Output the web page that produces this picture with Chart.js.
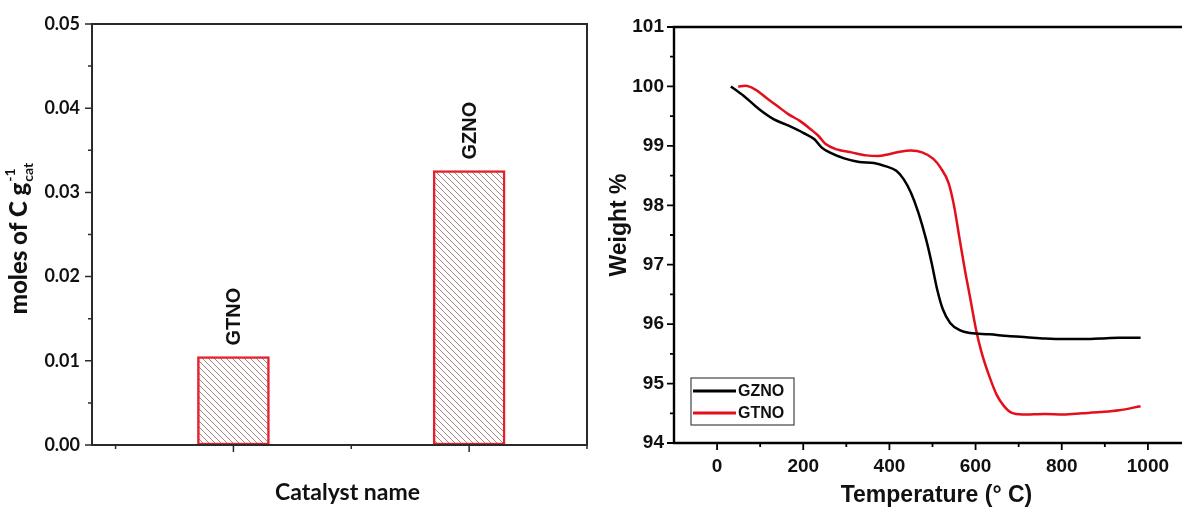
<!DOCTYPE html>
<html><head><meta charset="utf-8">
<script src="https://cdn.jsdelivr.net/npm/chart.js@4.4.0/dist/chart.umd.min.js"></script>
<style>
html,body{margin:0;padding:0;background:#fff;overflow:hidden;width:1182px;height:510px;position:relative;}
#left{position:absolute;left:0;top:0;width:600px;height:510px;}
#right{position:absolute;left:600px;top:0;width:600px;height:510px;}
</style></head><body>
<div id="left"><canvas id="c1" width="600" height="510"></canvas></div>
<div id="right"><canvas id="c2" width="600" height="510"></canvas></div>
<script>
// ---------- data: left panel ----------
const categories = ['GTNO', 'GZNO'];
const carbonMoles = [0.0105, 0.0326];
const carbonTicks = [0, 0.01, 0.02, 0.03, 0.04, 0.05];
const carbonMinorTicks = [0.005, 0.015, 0.025, 0.035, 0.045];

// ---------- data: right panel (TGA) ----------
const tempGZNO = [32, 62, 97, 131, 166, 200, 226, 243, 261, 295, 330, 364, 390, 416, 433, 450, 467, 485, 498, 511, 524, 541, 563, 588, 632, 675, 718, 761, 804, 847, 890, 933, 983];
const weightGZNO = [100.0, 99.84, 99.62, 99.45, 99.34, 99.22, 99.11, 98.97, 98.89, 98.79, 98.73, 98.71, 98.66, 98.58, 98.44, 98.21, 97.88, 97.43, 97.03, 96.58, 96.25, 96.02, 95.90, 95.85, 95.83, 95.80, 95.78, 95.76, 95.75, 95.75, 95.76, 95.77, 95.77];
const tempGTNO = [49, 66, 88, 114, 140, 166, 192, 217, 235, 252, 278, 312, 347, 373, 399, 424, 450, 476, 502, 519, 537, 550, 563, 575, 588, 601, 614, 632, 649, 666, 683, 709, 761, 804, 847, 890, 933, 983];
const weightGTNO = [100.0, 100.01, 99.95, 99.81, 99.67, 99.53, 99.42, 99.28, 99.17, 99.03, 98.94, 98.89, 98.84, 98.83, 98.86, 98.90, 98.92, 98.89, 98.78, 98.63, 98.38, 97.99, 97.43, 96.92, 96.42, 95.91, 95.52, 95.12, 94.81, 94.62, 94.51, 94.48, 94.49, 94.48, 94.50, 94.52, 94.55, 94.62];
const weightTicks = [94, 95, 96, 97, 98, 99, 100, 101];
const weightMinorTicks = [94.5, 95.5, 96.5, 97.5, 98.5, 99.5, 100.5];
const tempTicks = [0, 200, 400, 600, 800, 1000];
const tempMinorTicks = [100, 300, 500, 700, 900];
const seriesNames = ['GZNO', 'GTNO'];

// ---------- helpers ----------
function hatch() {
  const c = document.createElement('canvas');
  c.width = 6; c.height = 6;
  const g = c.getContext('2d');
  g.fillStyle = '#ffffff'; g.fillRect(0, 0, 6, 6);
  g.strokeStyle = '#a88585'; g.lineWidth = 1;
  g.beginPath();
  g.moveTo(-1, -1); g.lineTo(7, 7);
  g.moveTo(-1, 5); g.lineTo(1, 7);
  g.moveTo(5, -1); g.lineTo(7, 1);
  g.stroke();
  return g.createPattern(c, 'repeat');
}

const framePlugin = {
  id: 'frame',
  afterDatasetsDraw(chart, args, o) {
    const {ctx, chartArea: a, scales} = chart;
    const x = scales.x, y = scales.y;
    ctx.save();
    ctx.strokeStyle = o.color;
    ctx.lineWidth = o.tickWidth;
    ctx.beginPath();
    (o.xMajor || []).forEach(v => { const p = x.getPixelForValue(v); ctx.moveTo(p, a.bottom); ctx.lineTo(p, a.bottom + o.majorLen); });
    (o.xMinor || []).forEach(v => { const p = x.getPixelForValue(v); ctx.moveTo(p, a.bottom); ctx.lineTo(p, a.bottom + o.minorLen); });
    (o.yMajor || []).forEach(v => { const p = y.getPixelForValue(v); ctx.moveTo(a.left, p); ctx.lineTo(a.left - o.majorLen, p); });
    (o.yMinor || []).forEach(v => { const p = y.getPixelForValue(v); ctx.moveTo(a.left, p); ctx.lineTo(a.left - o.minorLen, p); });
    ctx.stroke();
    ctx.lineWidth = o.width;
    ctx.lineCap = 'square';
    ctx.beginPath();
    ctx.moveTo(a.left, a.top); ctx.lineTo(a.left, a.bottom); ctx.lineTo(a.right, a.bottom);
    ctx.moveTo(a.left, a.top); ctx.lineTo(a.right, a.top);
    if (o.right) { ctx.moveTo(a.right, a.top); ctx.lineTo(a.right, a.bottom); }
    ctx.stroke();
    ctx.restore();
  }
};

// axis titles positioned relative to the chart area
const titlesPlugin = {
  id: 'axisTitles',
  afterDraw(chart, args, o) {
    const {ctx, chartArea: a} = chart;
    ctx.save();
    ctx.fillStyle = '#111';
    ctx.textAlign = 'center';
    ctx.textBaseline = 'middle';
    (o.items || []).forEach(t => {
      ctx.save();
      ctx.font = t.font;
      const cx = t.x === 'center' ? (a.left + a.right) / 2 + (t.dx || 0) : t.x;
      const cy = t.y === 'center' ? (a.top + a.bottom) / 2 + (t.dy || 0) : t.y;
      ctx.translate(cx, cy);
      if (t.rotate) ctx.rotate(-Math.PI / 2);
      ctx.fillText(t.text, 0, 0);
      ctx.restore();
    });
    ctx.restore();
  }
};

const barLabelPlugin = {
  id: 'barLabels',
  afterDatasetsDraw(chart, args, o) {
    const {ctx} = chart;
    const meta = chart.getDatasetMeta(0);
    ctx.save();
    ctx.font = 'bold 20px "Liberation Sans", Arial, sans-serif';
    ctx.fillStyle = '#111';
    ctx.textAlign = 'left';
    ctx.textBaseline = 'middle';
    meta.data.forEach((bar, i) => {
      ctx.save();
      ctx.translate(bar.x + 1, bar.y - 11);
      ctx.rotate(-Math.PI / 2);
      ctx.fillText(categories[i], 0, 0);
      ctx.restore();
    });
    ctx.restore();
  }
};

const yTitlePlugin = {
  id: 'yTitleSub',
  afterDraw(chart, args, o) {
    const {ctx, chartArea: a} = chart;
    const main = 'moles of C g', sup = '-1', sub = 'cat';
    const fMain = '900 24px Lato, "Open Sans", sans-serif';
    const fSmall = 'bold 14px Lato, "Open Sans", sans-serif';
    ctx.save();
    ctx.font = fMain; const wMain = ctx.measureText(main).width;
    ctx.font = fSmall; const wSup = ctx.measureText(sup).width; const wSub = ctx.measureText(sub).width;
    const total = wMain + Math.max(wSup, wSub) + 1;
    const cy = (a.top + a.bottom) / 2 + 4;
    ctx.translate(27, cy);
    ctx.rotate(-Math.PI / 2);
    ctx.fillStyle = '#111';
    ctx.textBaseline = 'alphabetic';
    ctx.textAlign = 'left';
    let x0 = -total / 2;
    ctx.font = fMain; ctx.fillText(main, x0, 0);
    ctx.font = fSmall;
    ctx.fillText(sup, x0 + wMain + 1, -12);
    ctx.fillText(sub, x0 + wMain + 1, 6);
    ctx.restore();
  }
};

const legendPlugin = {
  id: 'boxLegend',
  afterDatasetsDraw(chart, args, o) {
    const {ctx, chartArea: a} = chart;
    const bx = a.left + 17, by = a.top + 351, bw = 103, bh = 47;
    ctx.save();
    ctx.fillStyle = '#fff';
    ctx.fillRect(bx, by, bw, bh);
    ctx.strokeStyle = '#444'; ctx.lineWidth = 1.2;
    ctx.strokeRect(bx, by, bw, bh);
    ctx.font = 'bold 16px "Liberation Sans", Arial, sans-serif';
    ctx.textBaseline = 'middle'; ctx.textAlign = 'left';
    chart.data.datasets.forEach((ds, i) => {
      const ly = by + 13 + i * 22;
      ctx.strokeStyle = ds.borderColor; ctx.lineWidth = 3;
      ctx.beginPath(); ctx.moveTo(bx + 2, ly); ctx.lineTo(bx + 45, ly); ctx.stroke();
      ctx.fillStyle = '#111';
      ctx.fillText(ds.label, bx + 47, ly + 1);
    });
    ctx.restore();
  }
};

// ---------- left: bar chart ----------
new Chart(document.getElementById('c1'), {
  type: 'bar',
  data: {
    datasets: [{
      data: carbonMoles.map((v, i) => ({x: i + 1, y: v})),
      backgroundColor: hatch(),
      borderColor: '#e5202a',
      borderWidth: 2.5,
      borderSkipped: false,
      barThickness: 72
    }]
  },
  options: {
    responsive: false,
    animation: false,
    devicePixelRatio: 1,
    layout: {padding: {top: 24, right: 13, left: 0, bottom: 0}},
    plugins: {
      legend: {display: false}, tooltip: {enabled: false},
      frame: {color: '#2a2a2a', width: 2, tickWidth: 1.5, right: true, majorLen: 7, minorLen: 4,
        xMajor: [1, 2], xMinor: [0.5, 1.5, 2.5], yMajor: carbonTicks, yMinor: carbonMinorTicks},
      axisTitles: {items: [
        {text: 'Catalyst name', x: 'center', dx: 8, y: 493, font: 'bold 23px Lato, "Open Sans", sans-serif'}
      ]}
    },
    scales: {
      x: {
        type: 'linear', min: 0.4, max: 2.5, offset: false,
        grid: {display: false, drawTicks: false}, border: {display: false},
        ticks: {display: false},
        afterFit: s => { s.height = 65; }
      },
      y: {
        min: 0, max: 0.05,
        grid: {display: false, drawTicks: false}, border: {display: false},
        afterBuildTicks: s => { s.ticks = carbonTicks.map(v => ({value: v})); },
        ticks: {padding: 12, color: '#111', callback: v => Number(v).toFixed(2),
          font: {family: 'Lato, "Open Sans", sans-serif', size: 18, weight: 'bold'}},
        afterFit: s => { s.width = 92; }
      }
    }
  },
  plugins: [framePlugin, barLabelPlugin, yTitlePlugin, titlesPlugin]
});

// ---------- right: TGA line chart ----------
new Chart(document.getElementById('c2'), {
  type: 'line',
  data: {
    datasets: [
      {label: seriesNames[0], data: tempGZNO.map((t, i) => ({x: t, y: weightGZNO[i]})),
        borderColor: '#000000', borderWidth: 2.5, pointRadius: 0, cubicInterpolationMode: 'monotone', fill: false},
      {label: seriesNames[1], data: tempGTNO.map((t, i) => ({x: t, y: weightGTNO[i]})),
        borderColor: '#e3101b', borderWidth: 2.5, pointRadius: 0, cubicInterpolationMode: 'monotone', fill: false}
    ]
  },
  options: {
    responsive: false,
    animation: false,
    devicePixelRatio: 1,
    layout: {padding: {top: 27, right: 9, left: 0, bottom: 0}},
    plugins: {
      legend: {display: false}, tooltip: {enabled: false},
      frame: {color: '#000', width: 2.4, tickWidth: 1.8, right: false, majorLen: 7, minorLen: 4,
        xMajor: tempTicks, xMinor: tempMinorTicks, yMajor: weightTicks, yMinor: weightMinorTicks},
      axisTitles: {items: [
        {text: 'Weight %', x: 20, y: 'center', dy: -10, rotate: true, font: 'bold 23px "Liberation Sans", Arial, sans-serif'},
        {text: 'Temperature (° C)', x: 'center', dx: 4, y: 496, font: 'bold 23px "Liberation Sans", Arial, sans-serif'}
      ]}
    },
    scales: {
      x: {
        type: 'linear', min: -100, max: 1100,
        grid: {display: false, drawTicks: false}, border: {display: false},
        afterBuildTicks: s => { s.ticks = tempTicks.map(v => ({value: v})); },
        ticks: {padding: 12, color: '#111', maxRotation: 0, callback: v => String(v),
          font: {family: '"Liberation Sans", Arial, sans-serif', size: 19, weight: 'bold'}},
        afterFit: s => { s.height = 67; }
      },
      y: {
        min: 94, max: 101,
        grid: {display: false, drawTicks: false}, border: {display: false},
        afterBuildTicks: s => { s.ticks = weightTicks.map(v => ({value: v})); },
        ticks: {padding: 10, color: '#111', callback: v => String(v),
          font: {family: '"Liberation Sans", Arial, sans-serif', size: 19, weight: 'bold'}},
        afterFit: s => { s.width = 74; }
      }
    }
  },
  plugins: [framePlugin, legendPlugin, titlesPlugin]
});
</script>
</body></html>
